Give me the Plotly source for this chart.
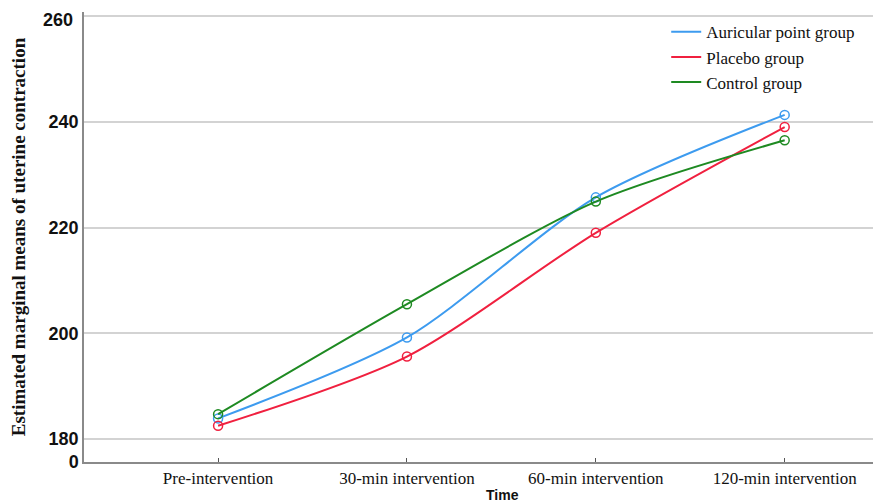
import plotly.graph_objects as go

categories = ["Pre-intervention", "30-min intervention", "60-min intervention", "120-min intervention"]
auricular = [183.9, 199.2, 225.7, 241.3]
placebo = [182.5, 195.6, 219.0, 239.0]
control = [184.7, 205.5, 224.9, 236.5]
series_names = ["Auricular point group", "Placebo group", "Control group"]
colors = ["#3d9bef", "#f0203f", "#1e8a22"]

# broken axis: "0" label drawn at bottom of visible range
axis_break_value = 175.65
ytick_vals = [axis_break_value, 180, 200, 220, 240, 260]
ytick_text = ["0", "180", "200", "220", "240", "260"]

fig = go.Figure()
xpos = list(range(len(categories)))
for name, vals, col in zip(series_names, [auricular, placebo, control], colors):
    fig.add_trace(go.Scatter(
        x=xpos, y=vals, name=name, mode="lines+markers", showlegend=False,
        line=dict(color=col, width=2, shape="spline", smoothing=0.8),
        marker=dict(symbol="circle-open", size=9, color=col, line=dict(width=1.5)),
    ))
# legend entries show line only
for name, col in zip(series_names, colors):
    fig.add_trace(go.Scatter(
        x=[None], y=[None], name=name, mode="lines",
        line=dict(color=col, width=2),
    ))

tick_font = dict(family="Liberation Sans", size=18, color="#111", weight="bold")
# top tick label is nudged down (as in the reference) so it stays inside the figure
shown_text = ytick_text[:-1] + [""]

fig.update_layout(
    width=873, height=495,
    margin=dict(l=76, r=0, t=4, b=41),
    plot_bgcolor="white", paper_bgcolor="white",
    showlegend=True,
    legend=dict(x=0.7305, y=0.995, xanchor="left", yanchor="top",
                font=dict(family="Liberation Serif", size=17, color="#111"),
                bgcolor="rgba(0,0,0,0)", tracegroupgap=0, itemwidth=30),
    xaxis=dict(
        range=[-0.71, 3.51], tickmode="array", tickvals=xpos, ticktext=categories,
        showgrid=False, zeroline=False, showline=True, linecolor="#8a8a8a", linewidth=1.5,
        ticks="inside", ticklen=4, tickcolor="#555",
        tickfont=dict(family="Liberation Serif", size=17, color="#111"),
        automargin=False,
    ),
    yaxis=dict(
        range=[axis_break_value, 260.76], tickmode="array", tickvals=ytick_vals, ticktext=shown_text,
        showgrid=True, gridcolor="#d3d3d3", gridwidth=1.5, zeroline=False,
        showline=True, linecolor="#8a8a8a", linewidth=1.5, ticks="",
        tickfont=tick_font,
        title=dict(text="<b>Estimated marginal means of uterine contraction</b>",
                   font=dict(family="Liberation Serif", size=19, color="#111"), standoff=20),
        automargin=False,
    ),
    annotations=[
        dict(text="<b>Time</b>", xref="paper", yref="paper", x=0.5245, y=-0.074,
             xanchor="center", yanchor="middle", showarrow=False,
             font=dict(family="Liberation Sans", size=14, color="#111")),
        dict(text=ytick_text[-1], xref="paper", yref="y", x=0, y=ytick_vals[-1],
             xanchor="right", yanchor="middle", xshift=-9, yshift=-4, showarrow=False,
             font=tick_font),
    ],
)
fig.write_html("out.html")
